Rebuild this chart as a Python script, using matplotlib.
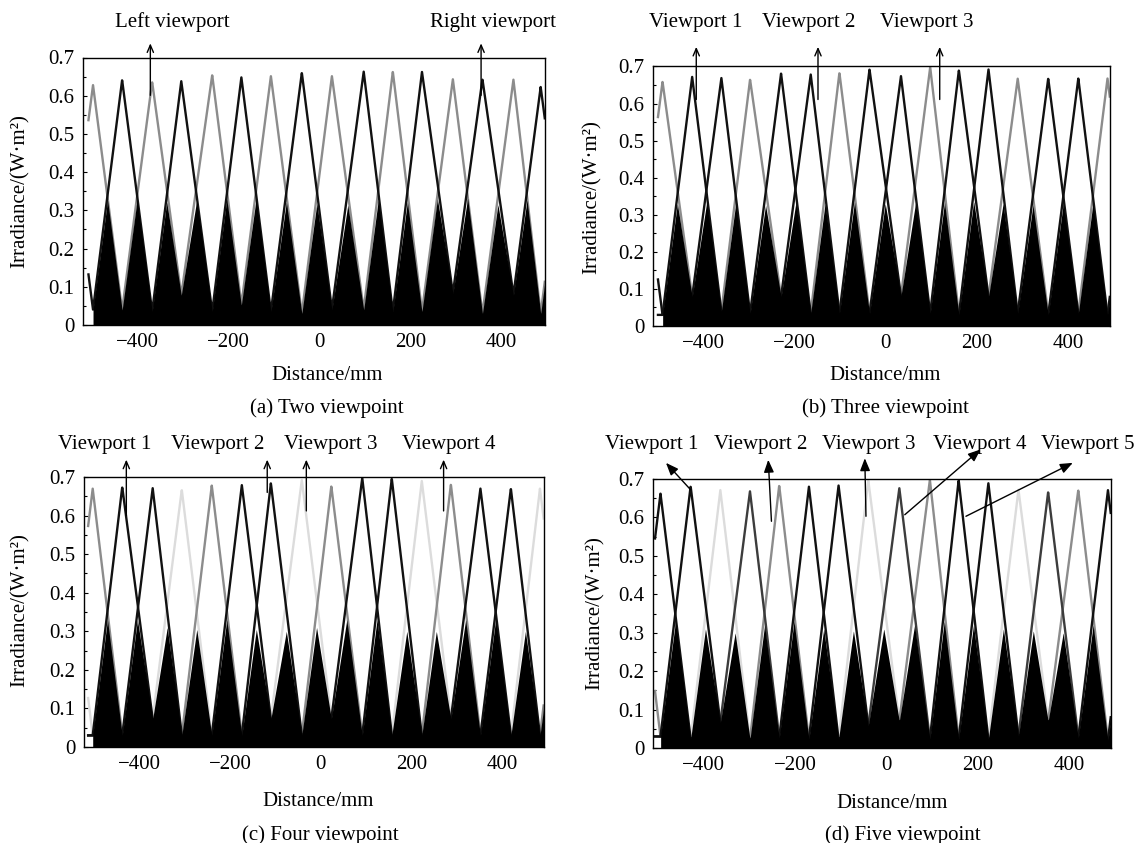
import numpy as np
import matplotlib.pyplot as plt
from matplotlib.colors import to_rgb

plt.rcParams['font.family'] = ['Liberation Serif', 'DejaVu Serif']
plt.rcParams['font.size'] = 15

W, H = 1137, 843

GRAY = '#8c8c8c'
BLACK = '#111111'
LIGHT = '#dcdcdc'
DARK = '#3c3c3c'

yticks = [0, 0.1, 0.2, 0.3, 0.4, 0.5, 0.6, 0.7]
ytick_labels = ['0', '0.1', '0.2', '0.3', '0.4', '0.5', '0.6', '0.7']
xticks = [-400, -200, 0, 200, 400]

# (a) two viewpoint: peak positions (mm), peak heights, level under each peak,
# crosstalk peak between neighbouring peaks, viewport of each peak
a_peak_x = [-563, -498, -434, -368, -304, -236, -172, -107, -39, 27, 97, 161,
            225, 293, 358, 426, 486, 551]
a_peak_y = [0.64, 0.628, 0.641, 0.636, 0.638, 0.654, 0.649, 0.651, 0.660, 0.652,
            0.663, 0.663, 0.663, 0.643, 0.643, 0.643, 0.623, 0.63]
a_floor = [0.03, 0.04, 0.039, 0.035, 0.078, 0.035, 0.052, 0.035, 0.03, 0.04,
           0.04, 0.035, 0.035, 0.083, 0.03, 0.078, 0.03, 0.03]
a_cross = [0.32, 0.327, 0.328, 0.322, 0.327, 0.33, 0.33, 0.322, 0.318, 0.314,
           0.327, 0.322, 0.33, 0.332, 0.315, 0.327, 0.32]
a_vp = [1, 0, 1, 0, 1, 0, 1, 0, 1, 0, 1, 0, 1, 0, 1, 0, 1, 0]
a_colors = [GRAY, BLACK]

# (b) three viewpoint
b_peak_x = [-556, -490, -425, -361, -298, -230, -165, -102, -36, 33, 97, 160,
            225, 289, 356, 422, 486, 551]
b_peak_y = [0.66, 0.659, 0.672, 0.670, 0.665, 0.681, 0.679, 0.683, 0.692, 0.674,
            0.699, 0.690, 0.692, 0.668, 0.668, 0.668, 0.668, 0.66]
b_floor = [0.03, 0.03, 0.079, 0.039, 0.034, 0.079, 0.034, 0.034, 0.034, 0.081,
           0.034, 0.03, 0.079, 0.034, 0.03, 0.034, 0.03, 0.03]
b_cross = [0.32, 0.33, 0.335, 0.33, 0.326, 0.333, 0.33, 0.335, 0.33, 0.332,
           0.334, 0.336, 0.33, 0.326, 0.33, 0.33, 0.32]
b_vp = [2, 0, 1, 2, 0, 1, 2, 0, 1, 2, 0, 1, 2, 0, 1, 2, 0, 1]
b_colors = [GRAY, BLACK, BLACK]

# (c) four viewpoint
c_peak_x = [-568, -502, -437, -370, -306, -240, -174, -110, -42, 23, 91, 156,
            222, 286, 351, 418, 482, 548]
c_peak_y = [0.67, 0.670, 0.674, 0.671, 0.667, 0.678, 0.680, 0.684, 0.693, 0.676,
            0.698, 0.696, 0.690, 0.681, 0.670, 0.670, 0.670, 0.67]
c_floor = [0.03, 0.03, 0.03, 0.073, 0.03, 0.03, 0.03, 0.073, 0.03, 0.073,
           0.03, 0.03, 0.03, 0.073, 0.03, 0.03, 0.03, 0.03]
c_cross = [0.32, 0.33, 0.33, 0.31, 0.305, 0.33, 0.305, 0.30, 0.31, 0.33,
           0.33, 0.30, 0.30, 0.33, 0.33, 0.30, 0.32]
c_vp = [3, 0, 1, 2, 3, 0, 1, 2, 3, 0, 1, 2, 3, 0, 1, 2, 3, 0]
c_colors = [GRAY, BLACK, BLACK, LIGHT]

# (d) five viewpoint
d_peak_x = [-560, -495, -429, -364, -299, -235, -170, -105, -40, 28, 95, 158,
            223, 289, 354, 420, 485, 550]
d_peak_y = [0.67, 0.662, 0.681, 0.672, 0.668, 0.683, 0.681, 0.683, 0.697, 0.677,
            0.698, 0.697, 0.690, 0.672, 0.666, 0.671, 0.671, 0.67]
d_floor = [0.03, 0.03, 0.023, 0.066, 0.023, 0.026, 0.023, 0.023, 0.057, 0.07,
           0.023, 0.023, 0.023, 0.031, 0.07, 0.026, 0.02, 0.03]
d_cross = [0.32, 0.33, 0.31, 0.30, 0.32, 0.33, 0.31, 0.305, 0.31, 0.32,
           0.33, 0.32, 0.31, 0.305, 0.30, 0.32, 0.32]
d_vp = [4, 0, 1, 2, 3, 4, 0, 1, 2, 3, 4, 0, 1, 2, 3, 4, 0, 1]
d_colors = [BLACK, BLACK, LIGHT, DARK, GRAY]


def rect(left, top, right, bottom):
    return [left / W, 1 - bottom / H, (right - left) / W, (bottom - top) / H]


def draw_panel(ax, px, py, floor, cross, vp, colors, xs, xe, xlim):
    px = np.array(px, float)
    grid = np.linspace(xs, xe, 3000)
    curves = []
    for v in range(len(colors)):
        yv = [py[k] if vp[k] == v else floor[k] for k in range(len(px))]
        curves.append(np.interp(grid, px, yv))
    order = sorted(range(len(colors)), key=lambda v: -sum(to_rgb(colors[v])))
    for v in order:
        ax.plot(grid, curves[v], color=colors[v], lw=1.7, zorder=2)
    # crosstalk region: zero-ish under each peak, maximum between neighbours
    mids = (px[:-1] + px[1:]) / 2
    fx = np.ravel(np.column_stack([px[:-1], mids]))
    fy = np.ravel(np.column_stack([floor[:-1], cross]))
    fx = np.append(fx, px[-1])
    fy = np.append(fy, floor[-1])
    start = px[px >= xs].min()
    g = grid[grid >= start]
    ax.fill_between(g, 0, np.interp(g, fx, fy), color='black', lw=0, zorder=3)
    ax.set_xlim(*xlim)
    ax.set_ylim(0, 0.7)
    ax.set_yticks(yticks)
    ax.set_yticklabels(ytick_labels)
    ax.set_yticks(np.arange(0.05, 0.7, 0.1), minor=True)
    ax.set_xticks(xticks)
    ax.tick_params(axis='y', which='major', direction='in', length=3, width=0.8, pad=6)
    ax.tick_params(axis='y', which='minor', direction='in', length=2, width=0.8)
    ax.tick_params(axis='x', length=0, pad=6)
    for s in ax.spines.values():
        s.set_linewidth(1.0)


fig = plt.figure(figsize=(W / 100, H / 100), dpi=100)

ax_a = fig.add_axes(rect(83, 57.5, 545, 325))
ax_b = fig.add_axes(rect(652.5, 66.5, 1110, 326))
ax_c = fig.add_axes(rect(83.6, 477, 543.6, 747))
ax_d = fig.add_axes(rect(652.5, 479, 1110.7, 748))

draw_panel(ax_a, a_peak_x, a_peak_y, a_floor, a_cross, a_vp, a_colors, -508, 495, (-520, 495.5))
draw_panel(ax_b, b_peak_x, b_peak_y, b_floor, b_cross, b_vp, b_colors, -500, 491, (-512, 491.5))
draw_panel(ax_c, c_peak_x, c_peak_y, c_floor, c_cross, c_vp, c_colors, -512, 490, (-522, 490))
draw_panel(ax_d, d_peak_x, d_peak_y, d_floor, d_cross, d_vp, d_colors, -507, 491, (-512.5, 491))


def ftext(x, y, s, **kw):
    fig.text(x / W, 1 - y / H, s, ha='center', va='center', **kw)


def arrow(ax, tail, tip, filled=False):
    style = '-|>,head_length=0.5,head_width=0.2' if filled else '->,head_length=0.35,head_width=0.15'
    ax.annotate('', xy=tip, xytext=tail, annotation_clip=False, zorder=5,
                arrowprops=dict(arrowstyle=style, lw=1.0, color='black',
                                shrinkA=0, shrinkB=0))


# y labels, x labels, captions
ylab = 'Irradiance/(W\u00b7m\u00b2)'
for x, y in [(20, 191), (592, 197), (20, 610), (595, 613)]:
    ftext(x, y, ylab, rotation=90)
for x, y in [(327, 376), (885, 376), (318, 802), (892, 803)]:
    ftext(x, y, 'Distance/mm')
ftext(327, 408, '(a) Two viewpoint')
ftext(885, 408, '(b) Three viewpoint')
ftext(320, 835, '(c) Four viewpoint')
ftext(903, 835, '(d) Five viewpoint')

# (a) annotations
ftext(172, 22, 'Left viewport')
ftext(493, 22, 'Right viewport')
arrow(ax_a, (-372, 0.601), (-372, 0.737))
arrow(ax_a, (355, 0.601), (355, 0.737))

# (b)
for x, s in [(696, 'Viewport 1'), (809, 'Viewport 2'), (927, 'Viewport 3')]:
    ftext(x, 22, s)
for x in [-416, -149, 118]:
    arrow(ax_b, (x, 0.611), (x, 0.753))

# (c)
for x, s in [(105, 'Viewport 1'), (218, 'Viewport 2'), (331, 'Viewport 3'), (449, 'Viewport 4')]:
    ftext(x, 445, s)
for x, y0 in [(-428, 0.60), (-118, 0.66), (-32, 0.612), (270, 0.612)]:
    arrow(ax_c, (x, y0), (x, 0.745))

# (d)
for x, s in [(652, 'Viewport 1'), (761, 'Viewport 2'), (869, 'Viewport 3'),
             (980, 'Viewport 4'), (1088, 'Viewport 5')]:
    ftext(x, 445, s)
arrow(ax_d, (-429, 0.672), (-483, 0.742), True)
arrow(ax_d, (-252, 0.590), (-259, 0.750), True)
arrow(ax_d, (-45, 0.603), (-47.5, 0.754), True)
arrow(ax_d, (40, 0.607), (206, 0.777), True)
arrow(ax_d, (174, 0.603), (408, 0.742), True)

fig.savefig('out.png', dpi=100)
